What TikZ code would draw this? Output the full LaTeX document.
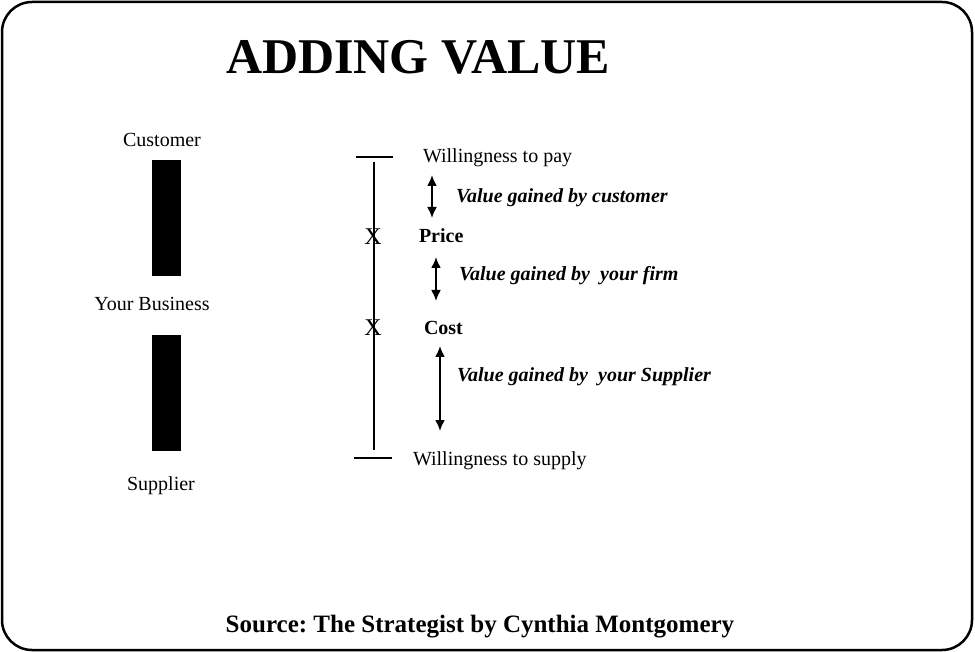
\documentclass[tikz,border=0pt]{standalone}
\usepackage{fontspec}
\setmainfont{Liberation Serif}
\usepackage{tikz}
\usetikzlibrary{arrows.meta}
\frenchspacing

\begin{document}
\begin{tikzpicture}[x=1pt, y=-1pt]
\tikzstyle{every node} = [inner sep=0pt, outer sep=0pt]
\tikzstyle{plain} = [font=\fontsize{20}{20}\selectfont]
\tikzstyle{gain} = [font=\fontsize{20}{20}\selectfont\bfseries\itshape, anchor=west]
\tikzstyle{bar} = [fill=black, minimum width=29pt, minimum height=116pt]
\tikzstyle{twoway} = [{Latex[length=11pt,width=10pt]}-{Latex[length=11pt,width=10pt]}, line width=2pt]
\useasboundingbox (0, 0) rectangle (975, 652);
\draw [line width=2.5pt, rounded corners=30pt] (2, 2) rectangle (972, 650);

\node [font=\fontsize{50}{50}\selectfont\bfseries] (title) at (418, 57) {ADDING VALUE};

% left column
\node [plain] (cust) at (162, 140) {Customer};
\node [bar] (bartop) at (166.5, 218) {};
\node [plain] (biz) at (152, 304) {Your Business};
\node [bar] (barbot) at (166.5, 393) {};
\node [plain] (supp) at (161, 486) {Supplier};

% scale
\coordinate (top) at (374, 162);
\coordinate (bot) at (374, 450);
\coordinate (tl) at (356, 157);
\coordinate (tr) at (393, 157);
\coordinate (bl) at (354, 458);
\coordinate (br) at (392, 458);
\draw [line width=2pt] (tl) -- (tr);
\draw [line width=2pt] (bl) -- (br);
\draw [line width=2pt] (top) -- (bot);
\node [font=\fontsize{24}{24}\selectfont] (xp) at (373, 237) {X};
\node [font=\fontsize{24}{24}\selectfont] (xc) at (373, 328) {X};

\node [plain, anchor=west] (wtp) at (423, 158) {Willingness to pay};
\node [plain, anchor=west, font=\fontsize{20}{20}\selectfont\bfseries] (price) at (419, 236) {Price};
\node [plain, anchor=west, font=\fontsize{20}{20}\selectfont\bfseries] (cost) at (424, 328) {Cost};
\node [plain, anchor=west] (wts) at (413, 461) {Willingness to supply};

% gains
\coordinate (a1) at (432, 175);
\coordinate (b1) at (432, 218);
\coordinate (a2) at (436, 257);
\coordinate (b2) at (436, 301);
\coordinate (a3) at (440, 346);
\coordinate (b3) at (440, 431);
\draw [twoway] (a1) -- (b1);
\draw [twoway] (a2) -- (b2);
\draw [twoway] (a3) -- (b3);
\node [gain] (g1) at (456, 198) {Value gained by customer};
\node [gain] (g2) at (459, 276) {Value gained by\ \ your firm};
\node [gain] (g3) at (457, 377) {Value gained by\ \ your Supplier};

\node [font=\fontsize{25}{25}\selectfont\bfseries] (src) at (480, 627) {Source: The Strategist by Cynthia Montgomery};
\end{tikzpicture}
\end{document}
